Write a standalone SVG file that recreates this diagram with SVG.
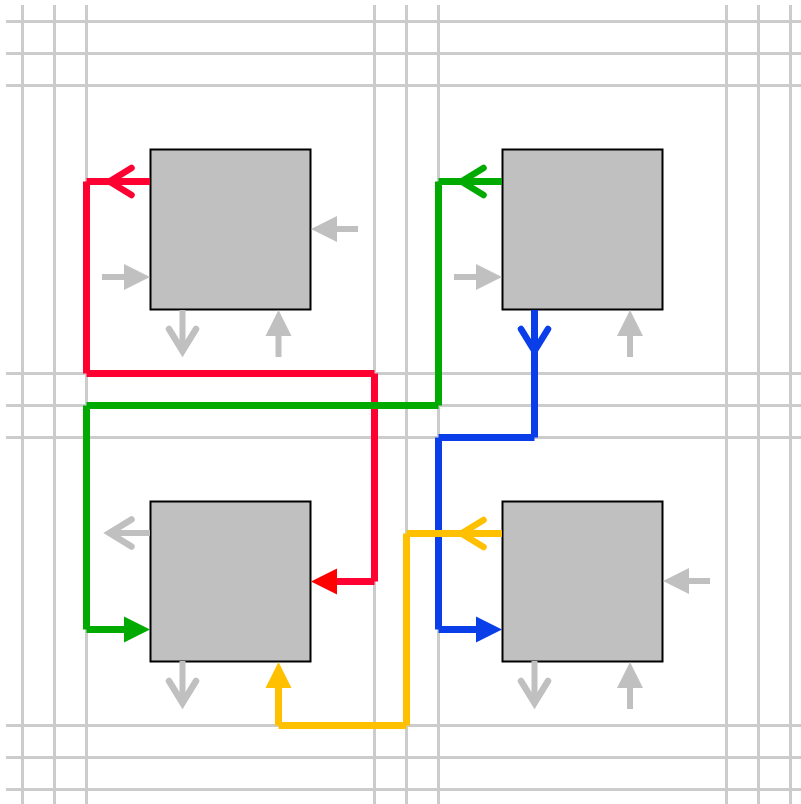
<svg xmlns="http://www.w3.org/2000/svg" width="801" height="804" viewBox="0 0 801 804">
<style>
.grid line{stroke:#ccc;stroke-width:3;fill:none}
.box{fill:#c0c0c0;stroke:#000;stroke-width:2}
.stub{fill:none;stroke:#c0c0c0;stroke-width:6}
.wire{fill:none;stroke-width:7;stroke-linecap:butt}
.red{stroke:#ff0033}.green{stroke:#00aa00}.blue{stroke:#0a3ee8}.yellow{stroke:#ffc000}
.fa{marker-end:url(#filled)}.oa{marker-end:url(#open)}.ra{marker-end:url(#filled-red)}
</style>
<defs>
<marker id="filled" markerUnits="userSpaceOnUse" markerWidth="40" markerHeight="40" viewBox="-20 -20 40 40" refX="0" refY="0" orient="auto" overflow="visible"><path d="M-11-13L15 0L-11 13Z" fill="context-stroke"/></marker>
<marker id="filled-red" markerUnits="userSpaceOnUse" markerWidth="40" markerHeight="40" viewBox="-20 -20 40 40" refX="0" refY="0" orient="auto" overflow="visible"><path d="M-11-13L15 0L-11 13Z" fill="#ff0000"/></marker>
<marker id="open" markerUnits="userSpaceOnUse" markerWidth="60" markerHeight="60" viewBox="-30 -30 60 60" refX="0" refY="0" orient="auto" overflow="visible"><path d="M-22-13.500L0 0L-22 13.500" fill="none" stroke="context-stroke" stroke-width="6.500" stroke-linecap="round" stroke-miterlimit="10"/></marker>
</defs>
<g id="grid" class="grid">
<line x1="22.5" y1="5" x2="22.5" y2="804"/><line x1="54.5" y1="5" x2="54.5" y2="804"/><line x1="86.5" y1="5" x2="86.5" y2="804"/>
<line x1="374.5" y1="5" x2="374.5" y2="804"/><line x1="406.5" y1="5" x2="406.5" y2="804"/><line x1="438.5" y1="5" x2="438.5" y2="804"/>
<line x1="726.5" y1="5" x2="726.5" y2="804"/><line x1="758.5" y1="5" x2="758.5" y2="804"/><line x1="790.5" y1="5" x2="790.5" y2="804"/>
<line x1="6" y1="21.5" x2="801" y2="21.5"/><line x1="6" y1="53.5" x2="801" y2="53.5"/><line x1="6" y1="85.5" x2="801" y2="85.5"/>
<line x1="6" y1="373.5" x2="801" y2="373.5"/><line x1="6" y1="405.5" x2="801" y2="405.5"/><line x1="6" y1="437.5" x2="801" y2="437.5"/>
<line x1="6" y1="725.5" x2="801" y2="725.5"/><line x1="6" y1="757.5" x2="801" y2="757.5"/><line x1="6" y1="789.5" x2="801" y2="789.5"/>
</g>
<g id="node-1"><rect class="box" x="150.500" y="149.500" width="160" height="160"/></g>
<g id="node-2"><rect class="box" x="502.500" y="149.500" width="160" height="160"/></g>
<g id="node-3"><rect class="box" x="150.500" y="501.500" width="160" height="160"/></g>
<g id="node-4"><rect class="box" x="502.500" y="501.500" width="160" height="160"/></g>
<g id="connectors">
<path class="stub fa" d="M358 229H326"/>
<path class="stub fa" d="M102 277H135"/>
<path class="stub oa" d="M182.500 310V351"/>
<path class="stub fa" d="M278.500 357V325"/>
<path class="stub fa" d="M454 277H487"/>
<path class="stub fa" d="M630 357V325"/>
<path class="stub oa" d="M150 533H109.500"/>
<path class="stub oa" d="M182.500 661V703"/>
<path class="stub fa" d="M710 581H678"/>
<path class="stub oa" d="M534.500 661V703"/>
<path class="stub fa" d="M630 709V677"/>
<g id="red-connector" class="wire red">
<path class="oa" d="M150 181.500H109.500"/><path d="M109.500 181.500H86.500"/><path d="M86.500 181.500V373.500"/><path d="M86.500 373.500H374.500"/><path d="M374.500 373.500V581.500"/><path class="ra" d="M374.500 581.500H326"/>
</g>
<g id="green-connector" class="wire green">
<path class="oa" d="M502 181.500H461.500"/><path d="M461.500 181.500H438.500"/><path d="M438.500 181.500V405.500"/><path d="M438.500 405.500H86.500"/><path d="M86.500 405.500V629.500"/><path class="fa" d="M86.500 629.500H135"/>
</g>
<g id="blue-connector" class="wire blue">
<path class="oa" d="M534.500 310V351"/><path d="M534.500 351V437.500"/><path d="M534.500 437.500H438.500"/><path d="M438.500 437.500V629.500"/><path class="fa" d="M438.500 629.500H487"/>
</g>
<g id="yellow-connector" class="wire yellow">
<path class="oa" d="M502 533.500H461.500"/><path d="M461.500 533.500H406.500"/><path d="M406.500 533.500V725.500"/><path d="M406.500 725.500H278.500"/><path class="fa" d="M278.500 725.500V677"/>
</g>
</g>
</svg>
